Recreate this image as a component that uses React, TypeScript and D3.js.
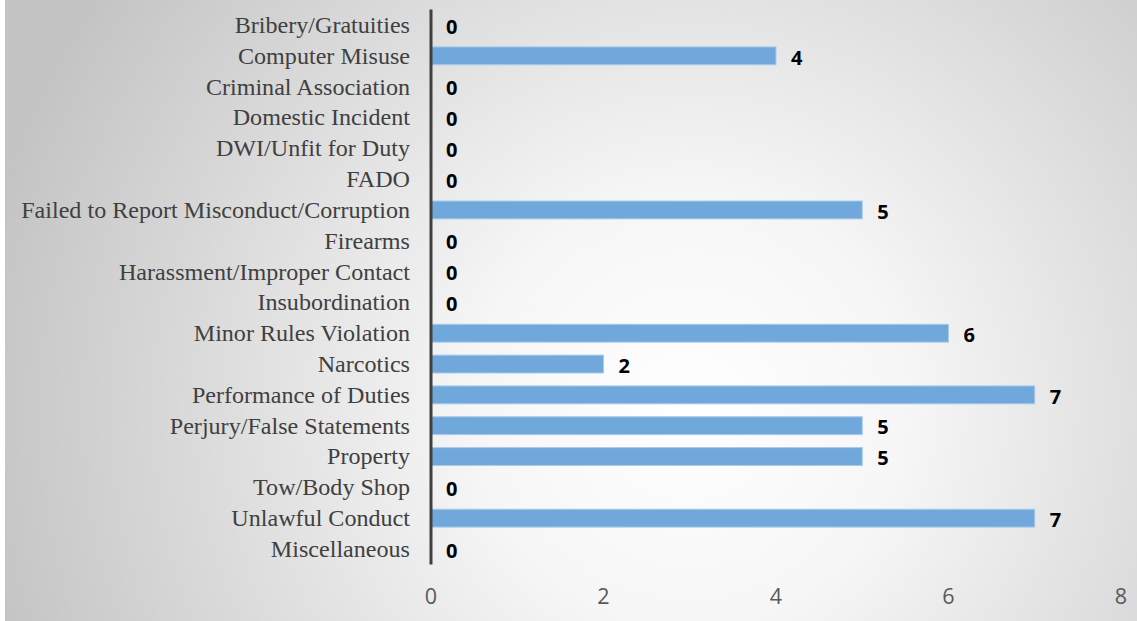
import React from "react";
import * as d3 from "d3";

const categories = [
  "Bribery/Gratuities",
  "Computer Misuse",
  "Criminal Association",
  "Domestic Incident",
  "DWI/Unfit for Duty",
  "FADO",
  "Failed to Report Misconduct/Corruption",
  "Firearms",
  "Harassment/Improper Contact",
  "Insubordination",
  "Minor Rules Violation",
  "Narcotics",
  "Performance of Duties",
  "Perjury/False Statements",
  "Property",
  "Tow/Body Shop",
  "Unlawful Conduct",
  "Miscellaneous",
];
const values = [0, 4, 0, 0, 0, 0, 5, 0, 0, 0, 6, 2, 7, 5, 5, 0, 7, 0];
const xTicks = [0, 2, 4, 6, 8];

const W = 1137;
const H = 621;

export default function App() {
  const x = d3.scaleLinear().domain([0, 8]).range([431, 1121]);
  const y = d3
    .scaleBand<string>()
    .domain(categories)
    .range([9.6, 564.4])
    .paddingInner(0.42)
    .paddingOuter(0.21);
  const bw = y.bandwidth();

  return (
    <svg
      width={W}
      height={H}
      style={{ position: "absolute", left: 0, top: 0, display: "block" }}
    >
      <defs>
        <radialGradient
          id="bg"
          gradientUnits="userSpaceOnUse"
          cx={690}
          cy={410}
          r={720}
        >
          <stop offset="0" stopColor="#ffffff" />
          <stop offset="0.3" stopColor="#f6f6f6" />
          <stop offset="1" stopColor="#c4c4c4" />
        </radialGradient>
      </defs>
      <rect x={0} y={0} width={W} height={H} fill="#ffffff" />
      <rect x={5} y={0} width={W - 5} height={H} fill="url(#bg)" />

      {categories.map((c, i) => (
        <g key={c}>
          {values[i] > 0 && (
            <rect
              x={x(0)}
              y={y(c)!}
              width={x(values[i]) - x(0)}
              height={bw}
              fill="#70a8db"
              stroke="#a9cbea"
              strokeWidth={1}
            />
          )}
          <text
            x={410}
            y={y(c)! + bw / 2}
            dy="0.33em"
            textAnchor="end"
            fontFamily="'Liberation Serif', 'Times New Roman', serif"
            fontSize={24.1}
            fill="#404040"
          >
            {c}
          </text>
          <text
            x={x(values[i]) + 15}
            y={y(c)! + bw / 2 + 1.5}
            dy="0.36em"
            fontFamily="'Open Sans', sans-serif"
            fontWeight="bold"
            fontSize={20}
            fill="#000000"
          >
            {values[i]}
          </text>
        </g>
      ))}

      <line
        x1={x(0)}
        x2={x(0)}
        y1={9.6}
        y2={564.4}
        stroke="#404040"
        strokeWidth={3}
      />

      {xTicks.map((t) => (
        <text
          key={t}
          x={x(t)}
          y={596}
          dy="0.35em"
          textAnchor="middle"
          fontFamily="'Open Sans', sans-serif"
          fontSize={21.5}
          fill="#595959"
        >
          {t}
        </text>
      ))}
    </svg>
  );
}
